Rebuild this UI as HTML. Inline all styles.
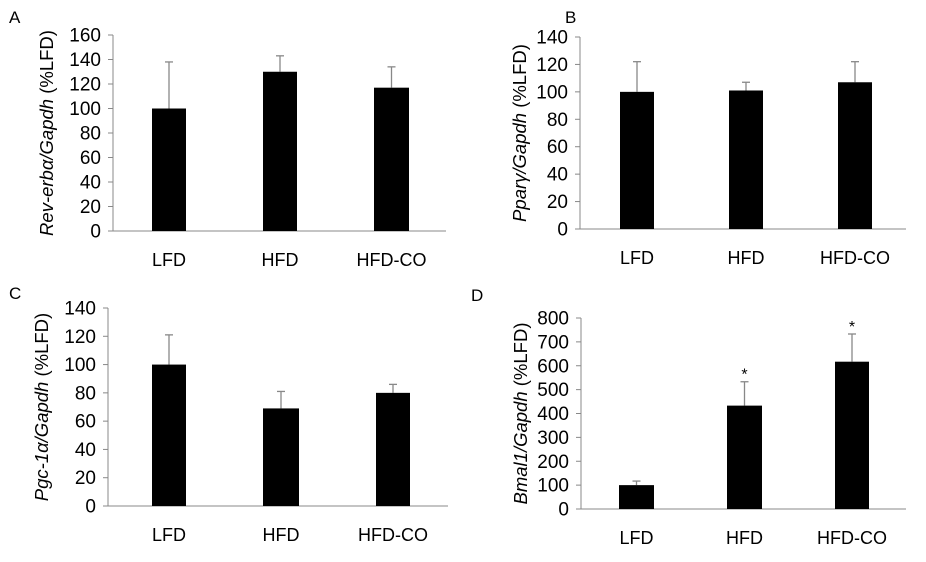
<!DOCTYPE html>
<html><head><meta charset="utf-8"><style>
html,body{margin:0;padding:0;background:#fff;}
svg{display:block;font-family:"Liberation Sans",Arial,sans-serif;}
</style></head><body>
<svg id="s" width="926" height="562" viewBox="0 0 926 562" xmlns="http://www.w3.org/2000/svg"></svg>
<script>
var P=[
 {L:"A",lx:9,ly:23,ax:113,top:35,bot:231,right:446,max:160,step:20,bars:[[152,186],[263,297],[374,409]],v:[100,130,117],e:[138,143,134],lab:["Rev-erbα/Gapdh"," (%LFD)"],ylx:47,star:false},
 {L:"B",lx:565,ly:23,ax:580,top:37,bot:229,right:906,max:140,step:20,bars:[[620,654],[729,763],[838,872]],v:[100,101,107],e:[122,107,122],lab:["Pparγ/Gapdh"," (%LFD)"],ylx:520,star:false},
 {L:"C",lx:9,ly:299,ax:108,top:308,bot:506,right:448,max:140,step:20,bars:[[152,186],[263,299],[376,410]],v:[100,69,80],e:[121,81,86],lab:["Pgc-1α/Gapdh"," (%LFD)"],ylx:42,star:false},
 {L:"D",lx:471,ly:301,ax:581,top:318,bot:509,right:906,max:800,step:100,bars:[[619,654],[727,762],[835,869]],v:[100,433,617],e:[117,533,733],lab:["Bmal1/Gapdh"," (%LFD)"],ylx:521,star:true}
];
var h='';
P.forEach(function(p){
 var sc=function(val){return p.bot-(p.bot-p.top)*val/p.max;};
 h+='<text x="'+p.lx+'" y="'+p.ly+'" font-size="17" fill="#000">'+p.L+'</text>';
 h+='<line x1="'+p.ax+'" y1="'+p.top+'" x2="'+p.ax+'" y2="'+p.bot+'" stroke="#888" stroke-width="1"/>';
 h+='<line x1="'+p.ax+'" y1="'+p.bot+'" x2="'+p.right+'" y2="'+p.bot+'" stroke="#888" stroke-width="1"/>';
 for(var t=0;t<=p.max;t+=p.step){
  var y=sc(t);
  h+='<line x1="'+(p.ax-5)+'" y1="'+y+'" x2="'+p.ax+'" y2="'+y+'" stroke="#888"/>';
  h+='<text x="'+(p.ax-12)+'" y="'+(y+6.5)+'" font-size="19" text-anchor="end" fill="#000">'+t+'</text>';
 }
 var cats=["LFD","HFD","HFD-CO"];
 p.bars.forEach(function(b,i){
  var yv=sc(p.v[i]),ye=sc(p.e[i]),cx=(b[0]+b[1])/2;
  h+='<line x1="'+cx+'" y1="'+yv+'" x2="'+cx+'" y2="'+ye+'" stroke="#888" stroke-width="1.3"/>';
  h+='<line x1="'+(cx-4)+'" y1="'+ye+'" x2="'+(cx+4)+'" y2="'+ye+'" stroke="#888" stroke-width="1.3"/>';
  h+='<rect x="'+b[0]+'" y="'+yv+'" width="'+(b[1]-b[0])+'" height="'+(p.bot-yv)+'" fill="#000"/>';
  h+='<text x="'+cx+'" y="'+(p.bot+35)+'" font-size="18" text-anchor="middle" fill="#000">'+cats[i]+'</text>';
  if(p.star&&i>0) h+='<text x="'+cx+'" y="'+(ye-2)+'" font-size="16" text-anchor="middle" fill="#000">*</text>';
 });
 var cy=(p.top+p.bot)/2;
 h+='<text transform="translate('+(p.ylx+6)+','+cy+') rotate(-90)" font-size="18.5" text-anchor="middle" fill="#000"><tspan font-style="italic">'+p.lab[0]+'</tspan>'+p.lab[1]+'</text>';
});
document.getElementById('s').innerHTML=h;
</script>
</body></html>
